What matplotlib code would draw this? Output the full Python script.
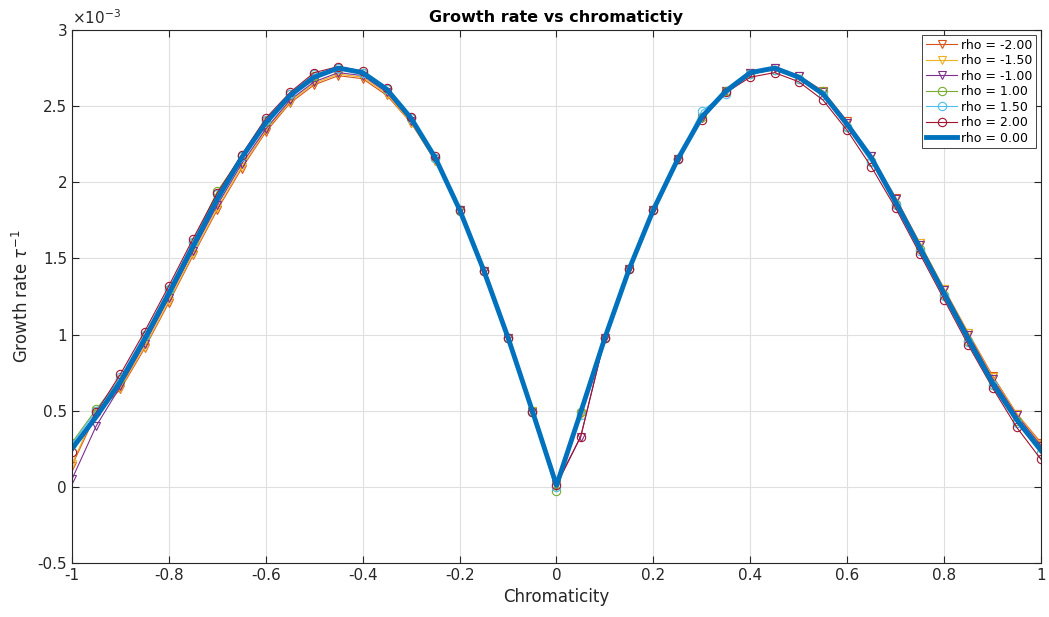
import numpy as np
import matplotlib
matplotlib.use("Agg")
import matplotlib.pyplot as plt
from matplotlib.ticker import FuncFormatter

# chromaticity grid
chroma = np.round(np.arange(-1.0, 1.0001, 0.05), 2)

# growth rates in units of 1e-3
rate_m200 = [0.14, 0.48, 0.64, 0.91, 1.21, 1.52, 1.82, 2.09, 2.33, 2.52, 2.64, 2.70, 2.68, 2.57, 2.39, 2.14, 1.82, 1.42, 0.98, 0.50, 0.01,
             0.48, 0.98, 1.43, 1.82, 2.15, 2.42, 2.60, 2.72, 2.75, 2.70, 2.60, 2.40, 2.17, 1.90, 1.60, 1.30, 1.01, 0.73, 0.48, 0.29]
rate_m150 = [0.15, 0.50, 0.65, 0.92, 1.22, 1.53, 1.83, 2.10, 2.34, 2.53, 2.65, 2.71, 2.69, 2.58, 2.39, 2.14, 1.82, 1.42, 0.98, 0.50, 0.01,
             0.48, 0.98, 1.43, 1.82, 2.15, 2.42, 2.60, 2.72, 2.75, 2.70, 2.59, 2.39, 2.17, 1.89, 1.60, 1.30, 1.01, 0.72, 0.48, 0.28]
rate_m100 = [0.05, 0.40, 0.66, 0.94, 1.24, 1.55, 1.85, 2.12, 2.35, 2.54, 2.66, 2.72, 2.70, 2.59, 2.40, 2.15, 1.82, 1.42, 0.98, 0.49, 0.02,
             0.33, 0.98, 1.43, 1.82, 2.15, 2.42, 2.60, 2.72, 2.75, 2.70, 2.59, 2.39, 2.17, 1.89, 1.59, 1.29, 1.00, 0.71, 0.47, 0.27]
rate_p100 = [0.29, 0.51, 0.71, 0.99, 1.29, 1.61, 1.94, 2.17, 2.40, 2.58, 2.70, 2.75, 2.72, 2.61, 2.42, 2.16, 1.81, 1.42, 0.98, 0.50, -0.03,
             0.49, 0.98, 1.43, 1.82, 2.15, 2.43, 2.60, 2.71, 2.74, 2.68, 2.60, 2.36, 2.14, 1.86, 1.56, 1.26, 0.96, 0.67, 0.43, 0.22]
rate_p150 = [0.28, 0.50, 0.72, 1.00, 1.30, 1.61, 1.92, 2.17, 2.41, 2.58, 2.71, 2.75, 2.72, 2.61, 2.42, 2.16, 1.82, 1.42, 0.98, 0.49, 0.00,
             0.47, 0.98, 1.43, 1.82, 2.15, 2.47, 2.58, 2.71, 2.74, 2.68, 2.57, 2.36, 2.13, 1.85, 1.55, 1.25, 0.95, 0.67, 0.42, 0.22]
rate_p200 = [0.23, 0.49, 0.74, 1.02, 1.32, 1.63, 1.93, 2.18, 2.42, 2.59, 2.72, 2.76, 2.73, 2.62, 2.43, 2.17, 1.82, 1.42, 0.98, 0.49, 0.01,
             0.33, 0.98, 1.43, 1.82, 2.15, 2.41, 2.59, 2.69, 2.72, 2.66, 2.54, 2.34, 2.10, 1.83, 1.53, 1.23, 0.93, 0.65, 0.39, 0.18]
rate_0 = [0.25, 0.46, 0.69, 0.97, 1.27, 1.58, 1.89, 2.16, 2.39, 2.57, 2.69, 2.75, 2.72, 2.61, 2.42, 2.16, 1.82, 1.42, 0.98, 0.50, 0.01,
          0.49, 0.98, 1.43, 1.82, 2.15, 2.43, 2.60, 2.72, 2.75, 2.69, 2.58, 2.38, 2.16, 1.87, 1.57, 1.27, 0.97, 0.68, 0.44, 0.24]

series = [
    ("rho = -2.00", rate_m200, "#D95319", "v"),
    ("rho = -1.50", rate_m150, "#EDB120", "v"),
    ("rho = -1.00", rate_m100, "#7E2F8E", "v"),
    ("rho = 1.00", rate_p100, "#77AC30", "o"),
    ("rho = 1.50", rate_p150, "#4DBEEE", "o"),
    ("rho = 2.00", rate_p200, "#A2142F", "o"),
]


def fmt(v, scale=1.0):
    r = round(v * scale, 2) + 0.0
    if r == 0:
        r = 0.0
    return "%g" % r


fig = plt.figure(figsize=(10.49, 6.17), dpi=100)
ax = fig.add_axes([0.0686, 0.0875, 0.9238, 0.8639])

for label, vals, color, mk in series:
    ax.plot(chroma, np.array(vals) * 1e-3, color=color, marker=mk, markersize=6,
            markerfacecolor="none", markeredgewidth=0.8, linewidth=0.8, label=label)
ax.plot(chroma, np.array(rate_0) * 1e-3, color="#0072BD", linewidth=3.5, label="rho = 0.00")

ax.set_xlim(-1, 1)
ax.set_ylim(-0.5e-3, 3e-3)
ax.set_xticks(np.arange(-1, 1.01, 0.2))
ax.set_yticks(np.arange(-0.5e-3, 3.01e-3, 0.5e-3))
ax.xaxis.set_major_formatter(FuncFormatter(lambda v, p: fmt(v)))
ax.yaxis.set_major_formatter(FuncFormatter(lambda v, p: fmt(v, 1e3)))
ax.text(0.0, 1.005, r"$\times10^{-3}$", transform=ax.transAxes, fontsize=11,
        color="#262626", ha="left", va="bottom")

ax.grid(True, color="#dfdfdf", linewidth=0.8)
ax.set_axisbelow(True)
ax.tick_params(direction="in", top=True, right=True, labelsize=11, colors="#262626", length=5)
for sp in ax.spines.values():
    sp.set_color("#262626")
    sp.set_linewidth(0.8)

ax.set_title("Growth rate vs chromatictiy", fontsize=11.5, fontweight="bold")
ax.set_xlabel("Chromaticity", fontsize=12, color="#262626")
ax.set_ylabel(r"Growth rate $\tau^{-1}$", fontsize=12, color="#262626")

leg = ax.legend(loc="upper right", fontsize=9, fancybox=False, framealpha=1,
                edgecolor="#262626", borderpad=0.3, labelspacing=0.2, handlelength=2.5,
                handletextpad=0.3, borderaxespad=0.4)
leg.get_frame().set_linewidth(0.6)

fig.savefig("out.png", dpi=100)
